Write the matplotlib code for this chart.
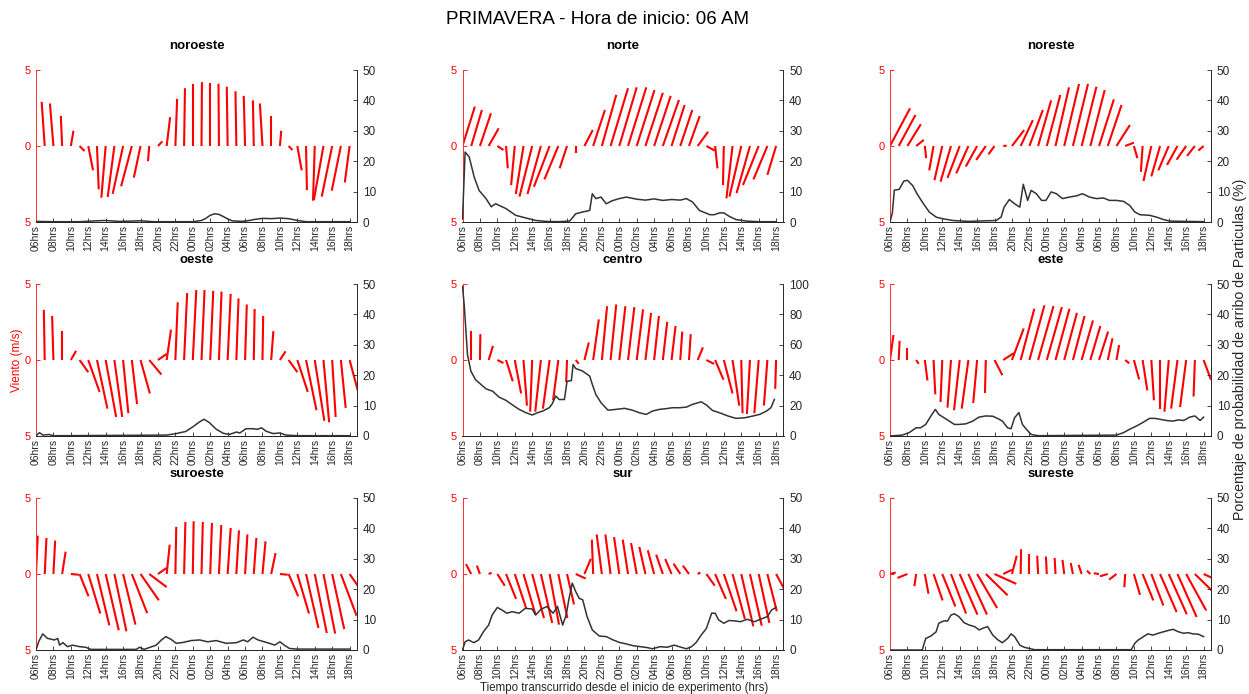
import numpy as np
import matplotlib
matplotlib.use('Agg')
import matplotlib.pyplot as plt

plt.rcParams['font.family'] = ['Liberation Sans', 'DejaVu Sans']

# ---------------- data ----------------
stick_hours = list(range(37))  # hours after 06:00
tick_pos = list(range(0, 37, 2))
tick_labels = ['06hrs', '08hrs', '10hrs', '12hrs', '14hrs', '16hrs', '18hrs', '20hrs', '22hrs',
               '00hrs', '02hrs', '04hrs', '06hrs', '08hrs', '10hrs', '12hrs', '14hrs', '16hrs', '18hrs']

# wind components (m/s) for each hourly stick
noroeste_u = [0, -0.35, -0.4, -0.15, 0.3, 0.58, 0.55, 0.2, -0.5, -0.77, -1.2, -1.23, -0.77, -0.15, 0.5, 0.4,
              0.2, 0.1, 0.0, 0.05, 0.0, -0.05, -0.1, -0.1, -0.15, -0.1, -0.3, 0.0, 0.15, 0.45, 0.5, 0.1,
              -0.2, -1.1, -1.2, -1.05, -0.55]
noroeste_v = [0, 2.9, 2.8, 1.98, 1.0, -0.33, -1.6, -2.85, -3.4, -3.35, -3.15, -2.65, -2.08, -1.0, 0.3, 1.9,
              3.1, 3.8, 4.1, 4.2, 4.15, 4.1, 3.9, 3.6, 3.3, 3.0, 2.8, 1.95, 1.0, -0.26, -1.6, -2.9,
              -3.6, -3.55, -3.33, -2.94, -2.4]

norte_u = [1.42, 1.23, 1.27, 1.15, 0.7, 0.2, -0.42, -0.88, -1.46, -1.54, -1.8, -1.6, -0.85, 0.0, 0.95, 1.35,
           1.65, 2.0, 2.0, 2.1, 2.04, 2.0, 1.9, 1.85, 1.5, 1.38, 1.23, 1.2, 0.96, 0.27, -0.1, -0.7,
           -1.35, -1.54, -1.8, -1.6, -1.0]
norte_v = [2.59, 2.37, 2.15, 1.16, -0.26, -1.47, -2.57, -3.16, -3.33, -3.16, -2.68, -2.2, -1.47, -0.44, 1.05, 2.37,
           3.36, 3.8, 3.86, 3.86, 3.68, 3.5, 3.3, 3.03, 2.7, 2.37, 1.97, 0.94, -0.3, -1.47, -2.57, -3.44,
           -3.33, -3.1, -2.57, -2.2, -1.9]

noreste_u = [2.3, 1.92, 1.54, 0.88, 0.15, -0.5, -0.9, -1.2, -1.4, -1.4, -1.3, -1.1, -0.7, 0.4, 1.4, 1.4,
             1.55, 1.5, 1.55, 1.55, 1.7, 1.73, 1.7, 1.65, 1.7, 1.58, 1.54, 1.0, 0.4, -0.2, -0.9, -1.0,
             -1.2, -1.2, -1.1, -0.9, -0.6]
noreste_v = [2.48, 2.04, 1.43, 0.4, -0.8, -1.6, -2.25, -2.35, -2.1, -1.8, -1.35, -0.92, -0.55, 0.02, 1.05, 1.7,
             2.37, 3.0, 3.36, 3.86, 4.08, 4.08, 3.9, 3.68, 3.07, 2.7, 1.38, 0.22, -0.8, -1.7, -2.3, -2.0,
             -1.6, -1.25, -0.9, -0.65, -0.3]

oeste_u = [-0.05, -0.1, -0.15, 0.0, 0.6, 1.0, 1.3, 1.2, 1.2, 0.9, 0.6, 0.6, 1.07, 1.4, 1.0, 0.5,
           0.27, 0.35, 0.4, 0.35, 0.35, 0.3, 0.35, 0.25, 0.2, 0.1, 0.08, 0.25, 0.65, 1.0, 1.2, 1.2,
           1.1, 0.65, 0.4, 0.55, 1.15]
oeste_v = [3.57, 3.3, 2.9, 1.9, 0.6, -0.8, -2.1, -3.2, -3.75, -3.75, -3.5, -2.9, -2.2, -0.96, 0.4, 2.0,
           3.8, 4.4, 4.6, 4.6, 4.55, 4.5, 4.35, 4.05, 3.65, 3.35, 2.9, 1.9, 0.57, -0.8, -2.1, -3.3,
           -4.0, -4.1, -3.75, -3.15, -2.45]

centro_u = [0.05, 0.0, 0.05, 0.5, 0.7, 0.77, 0.73, 0.4, -0.23, -0.65, -0.77, -0.6, -0.1, 0.35, 0.5, 0.65,
            0.6, 0.65, 0.7, 0.73, 0.73, 0.65, 0.55, 0.5, 0.46, 0.23, 0.2, 0.6, 0.88, 0.96, 1.0, 0.77,
            0.15, -0.35, -0.5, -0.4, -0.1]
centro_v = [2.1, 1.9, 1.7, 0.93, -0.2, -1.4, -2.2, -3.0, -3.4, -3.4, -3.2, -2.65, -1.45, -0.25, 1.15, 2.67,
            3.54, 3.65, 3.54, 3.48, 3.33, 3.1, 2.9, 2.5, 2.24, 1.87, 1.7, 0.83, -0.26, -1.3, -2.2, -3.0,
            -3.5, -3.55, -3.5, -3.0, -1.9]

este_u = [0.4, 0.1, 0.0, 0.3, 0.3, 0.2, -0.2, -0.4, -0.65, -0.77, -0.45, -0.1, 0.9, 1.2, 1.35, 1.57,
          1.73, 1.77, 1.73, 1.6, 1.46, 1.34, 1.3, 1.15, 1.04, 0.54, 0.3, 0.46, 0.6, 0.54, 0.3, 0.0,
          -0.5, -0.73, -0.7, -0.15, 0.85]
este_v = [1.65, 1.26, 0.8, -0.25, -1.35, -2.26, -2.76, -3.13, -3.3, -3.2, -2.83, -2.17, -1.0, 0.45, 2.07, 3.37,
          3.6, 3.55, 3.48, 3.37, 3.1, 2.9, 2.6, 2.24, 1.87, 1.43, 0.98, -0.22, -1.28, -2.0, -2.65, -3.2,
          -3.4, -3.2, -3.1, -2.4, -1.3]

suroeste_u = [0.2, 0.2, 0.2, 0.4, 0.9, 1.03, 1.38, 1.42, 1.5, 1.38, 1.42, 1.76, 2.1, 2.0, 1.0, 0.35,
              0.1, 0.15, 0.1, 0.15, 0.2, 0.27, 0.35, 0.3, 0.27, 0.3, 0.35, 0.5, 0.9, 1.1, 1.34, 1.42,
              1.38, 1.34, 1.38, 1.8, 2.1]
suroeste_v = [2.52, 2.37, 2.2, 1.47, -0.05, -1.47, -2.6, -3.38, -3.7, -3.77, -3.33, -2.57, -1.73, -0.86, 0.4, 1.93,
              3.1, 3.42, 3.47, 3.42, 3.36, 3.22, 3.03, 2.87, 2.6, 2.37, 2.15, 1.38, -0.05, -1.47, -2.6, -3.55,
              -3.88, -3.92, -3.62, -2.74, -1.73]

sur_u = [0.0, -0.6, -0.35, 0.35, 0.85, 1.15, 1.3, 1.38, 1.35, 1.3, 1.08, 1.04, 0.8, 1.15, 0.73, -0.15,
         -0.6, -0.6, -0.6, -0.6, -0.65, -0.7, -0.73, -0.77, -0.73, -0.77, -0.7, 0.3, 0.96, 1.23, 1.46, 1.42,
         1.38, 1.35, 1.23, 1.08, 0.95]
sur_v = [0.0, 0.65, 0.55, 0.08, -0.77, -1.64, -2.24, -2.67, -2.9, -3.22, -3.33, -2.9, -2.0, -0.3, 1.0, 2.26,
         2.6, 2.6, 2.43, 2.26, 2.04, 1.78, 1.56, 1.27, 0.99, 0.68, 0.55, 0.1, -0.77, -1.64, -2.45, -2.96,
         -3.44, -3.4, -3.22, -2.45, -1.0]

sureste_u = [0.65, 0.0, -1.15, -0.2, 0.42, 1.04, 1.5, 1.73, 2.04, 2.13, 2.3, 2.5, 2.5, 1.0, 0.55, 0.05,
             0.0, -0.1, -0.1, -0.1, -0.2, -0.25, -0.35, -0.4, -0.6, -0.9, -0.85, -0.1, 0.7, 1.23, 1.38, 1.9,
             2.07, 2.2, 2.3, 2.5, 2.5]
sureste_v = [0.1, 0.0, -0.26, -0.8, -1.3, -1.74, -2.13, -2.6, -2.67, -2.67, -2.24, -1.4, -0.65, 0.28, 1.2, 1.63,
             1.3, 1.2, 1.15, 1.05, 0.93, 0.72, 0.6, 0.22, 0.05, -0.15, -0.37, -0.87, -1.37, -1.74, -2.07, -2.5,
             -2.65, -2.83, -2.4, -1.4, -0.65]

# particle arrival probability (%) : time (h after 06:00) and value
noroeste_pt = [0, 2, 5, 7, 8, 9.5, 11, 12, 13.5, 18, 19, 19.5, 20, 20.5, 21, 21.5, 22, 22.5, 23.5, 24,
               24.5, 25, 26, 27, 28, 29, 29.5, 30, 31, 36]
noroeste_pp = [0.2, 0.1, 0.1, 0.4, 0.5, 0.2, 0.3, 0.4, 0.1, 0.1, 0.5, 1.2, 2.2, 2.7, 2.5, 1.8, 1.0, 0.4, 0.2, 0.3,
               0.5, 0.8, 1.2, 1.1, 1.3, 1.1, 0.8, 0.5, 0.1, 0.1]

norte_pt = [0, 0.3, 0.77, 1.34, 1.9, 2.7, 3.3, 3.8, 5, 6.1, 7.3, 8.4, 9.6, 11, 12.3, 13, 13.8, 14.6, 14.9,
            15.3, 15.9, 16.5, 17.2, 18, 18.8, 20, 21, 22, 23, 24, 25, 25.7, 26.4, 27.2, 28.4, 28.9, 29.5,
            30, 30.6, 31.4, 32.6, 34, 36]
norte_pp = [1.0, 23, 21.4, 14.8, 10.4, 7.7, 5, 6, 4.4, 2.2, 1.3, 0.5, 0.2, 0.1, 0.3, 2.7, 3.3, 3.8, 9.3,
            7.7, 8.2, 6, 7, 7.7, 8.2, 7.5, 7.2, 7.6, 7.1, 7.4, 7.2, 7.7, 6.6, 3.8, 2.4, 2.4, 3.0,
            3.0, 1.9, 0.8, 0.3, 0.1, 0.1]

noreste_pt = [0, 0.27, 0.5, 1.04, 1.6, 2, 2.6, 3.1, 3.7, 4.5, 5.3, 6, 7.2, 9, 12.2, 12.75, 13.1, 13.7, 14.3,
              14.9, 15.3, 15.8, 16.2, 16.8, 17.4, 17.9, 18.5, 19.1, 19.8, 20.6, 21.4, 22.1, 22.9, 23.7, 24.5,
              25.2, 26, 26.8, 27.5, 28.1, 28.7, 29.8, 30.6, 31.4, 32.1, 36]
noreste_pp = [0, 3, 10.5, 10.7, 13.5, 13.7, 12, 9.3, 6.6, 3.3, 1.6, 1.1, 0.5, 0.2, 0.5, 1.6, 4.9, 7.4, 6,
              4.9, 12.4, 7.1, 10.4, 9.3, 7.1, 7.1, 9.9, 9.3, 7.7, 8.2, 8.6, 9.3, 8.2, 7.7, 7.9,
              7.1, 7.1, 6.8, 5.5, 3.3, 2.4, 2.2, 1.6, 0.8, 0.3, 0.1]

oeste_pt = [0, 0.4, 0.8, 1.5, 2, 3, 15, 16.1, 17.2, 18, 18.8, 19.3, 19.9, 20.7, 21.5, 22.2, 23, 23.4, 24.1,
            24.9, 25.4, 25.9, 26.4, 27.2, 28, 28.7, 30, 36]
oeste_pp = [0.1, 1.1, 0.3, 0.5, 0.1, 0.1, 0.3, 0.8, 1.5, 3.0, 4.7, 5.5, 4.4, 2.2, 0.9, 0.5, 1.3, 1.0, 2.4,
            2.4, 2.2, 2.7, 1.6, 0.8, 1.0, 0.3, 0.1, 0.1]

centro_pt = [0, 0.2, 0.57, 0.96, 1.5, 2.1, 2.7, 3.45, 4.2, 5, 5.75, 6.5, 7.3, 8, 8.6, 9.2, 9.96, 10.3, 10.7,
             11.1, 11.7, 12, 12.5, 12.7, 13, 13.8, 14.6, 14.9, 15.3, 15.9, 16.7, 17.6, 18.6, 19.5, 20.3,
             21.1, 21.8, 22.6, 23.4, 24.1, 24.9, 25.7, 26.4, 27.4, 28, 28.7, 29.5, 30.5, 31.4, 32.4, 33.3,
             34.1, 34.9, 35.4, 35.8]
centro_pp = [98.5, 86, 53.6, 42.7, 37, 34, 31, 29.5, 25.6, 23.4, 20.4, 17.5, 15.3, 13.8, 15.3, 16.4, 18.6, 21.2,
             26.3, 24, 24, 36, 36.5, 47, 44.4, 42.7, 39.4, 34, 27.4, 21.9, 17, 17.5, 18.2, 17, 15.3,
             14.2, 16.4, 17.5, 18, 18.6, 18.6, 19, 20.8, 22.5, 20.4, 16.8, 15.3, 13.1, 11.6, 12, 13.1,
             14.2, 16.4, 18.6, 24]

este_pt = [0, 1.4, 2.2, 3, 3.5, 4.1, 4.7, 5.2, 5.6, 6.2, 6.8, 7.4, 7.9, 8.7, 9.5, 10.2, 11, 11.8, 12.4,
           12.9, 13.5, 13.9, 14.3, 14.8, 15.2, 15.6, 16.2, 17, 26, 26.8, 27.5, 28.3, 29, 29.8, 30.4, 31,
           31.7, 32.5, 33.1, 33.7, 34.4, 35, 35.6, 36]
este_pp = [0, 0.3, 1.1, 2.7, 2.7, 3.8, 6.6, 8.75, 7.1, 6, 4.9, 3.8, 3.8, 4, 4.9, 6.2, 6.6, 6.5, 5.7,
           4.9, 2.7, 2.4, 6, 7.7, 3.8, 2.4, 0.5, 0.1, 0.3, 1.1, 2.2, 3.3, 4.4, 5.8, 5.8, 5.5,
           5.1, 4.9, 5.3, 5.1, 6.2, 6.6, 5.1, 6.2]

suroeste_pt = [0, 0.3, 0.77, 1.3, 2.1, 2.5, 2.7, 3.1, 3.6, 4.2, 5, 5.7, 6.3, 11.5, 11.9, 12.4, 13.8, 14.4,
               14.9, 15.5, 16.1, 16.9, 17.8, 18.8, 19.7, 20.7, 21.8, 23, 23.8, 24.3, 24.9, 25.5, 26.2, 26.8,
               27.4, 28, 28.5, 29.1, 30, 36]
suroeste_pp = [0, 2.7, 5.3, 3.85, 3.3, 3.8, 1.6, 2.4, 1.1, 1.6, 1.1, 0.9, 0.2, 0.2, 0.9, 0.2, 1.6, 3.3,
               4.4, 3.5, 2.2, 2.5, 3.1, 3.3, 2.7, 3.1, 2.2, 2.4, 3.3, 2.7, 4.2, 3.3, 2.7, 2.2,
               1.6, 2.7, 1.6, 0.5, 0.3, 0.3]

sur_pt = [0, 0.3, 0.7, 1.3, 1.85, 2.4, 3, 3.4, 4, 4.5, 5.1, 5.7, 6.5, 7.2, 8, 8.4, 9, 9.7, 10.4, 10.9,
          11.5, 11.9, 12.2, 12.6, 13, 13.4, 13.8, 14.3, 14.9, 15.7, 16.5, 17.3, 18, 18.8, 19.6, 20.4,
          21.2, 21.8, 22.7, 23.5, 24.3, 25.1, 25.7, 26.3, 26.8, 27.4, 28, 28.6, 29, 29.4, 30, 30.6,
          31.2, 31.9, 32.7, 33.5, 34.2, 35, 35.5, 36]
sur_pp = [0, 2.7, 3.3, 2.4, 3.3, 6, 8.2, 11.5, 14, 13.2, 12.1, 12.6, 12.1, 13.7, 13.5, 11.5, 13.4, 14.3,
          12.1, 14.3, 8.2, 11.5, 16.5, 22, 19.2, 17, 16.5, 11, 6.6, 4.6, 4.4, 3.3, 2.5, 2, 1.4, 1.1,
          0.8, 0.4, 1.1, 0.9, 1.6, 0.9, 0.4, 1.1, 2.4, 4.9, 7.1, 12.1, 12.1, 9.9, 8.8, 9.7,
          9.6, 9.3, 10.1, 9.3, 10.1, 11, 13.2, 14]

sureste_pt = [0, 3.7, 4.1, 4.7, 5.3, 5.6, 6.2, 6.6, 7, 7.4, 7.9, 8.5, 9.1, 9.7, 10.25, 10.6, 11.2, 11.8,
              12.4, 12.9, 13.5, 13.9, 14.3, 14.9, 15.4, 16, 16.6, 27.7, 28.1, 28.5, 29.1, 29.6, 30.2,
              30.8, 31.4, 31.9, 32.5, 33.1, 33.7, 34.2, 34.8, 35.4, 36]
sureste_pp = [0, 0, 3.8, 4.6, 6, 8.8, 9.6, 9.5, 11.5, 11.9, 11, 9, 8.2, 7.7, 6.6, 7.1, 7.7, 4.9,
              3.3, 2.4, 3.8, 5.3, 4.4, 1.6, 0.9, 0.5, 0.1, 0.1, 2.2, 3.3, 4.4, 5.3, 4.9,
              5.5, 6, 6.4, 6.8, 6, 5.5, 5.7, 5.3, 5.2, 4.4]

panel_names = ['noroeste', 'norte', 'noreste', 'oeste', 'centro', 'este', 'suroeste', 'sur', 'sureste']
panel_u = [noroeste_u, norte_u, noreste_u, oeste_u, centro_u, este_u, suroeste_u, sur_u, sureste_u]
panel_v = [noroeste_v, norte_v, noreste_v, oeste_v, centro_v, este_v, suroeste_v, sur_v, sureste_v]
panel_pt = [noroeste_pt, norte_pt, noreste_pt, oeste_pt, centro_pt, este_pt, suroeste_pt, sur_pt, sureste_pt]
panel_pp = [noroeste_pp, norte_pp, noreste_pp, oeste_pp, centro_pp, este_pp, suroeste_pp, sur_pp, sureste_pp]
panel_pmax = [50, 50, 50, 50, 100, 50, 50, 50, 50]

# ---------------- figure ----------------
W, H = 1249, 694
fig = plt.figure(figsize=(W / 100, H / 100), dpi=100)
col_left = [36, 462.5, 890]
row_top = [70, 284, 498]
aw, ah = 321, 152
dark = '#262626'

for i, name in enumerate(panel_names):
    r, c = divmod(i, 3)
    ax = fig.add_axes([col_left[c] / W, 1 - (row_top[r] + ah) / H, aw / W, ah / H])
    ax2 = ax.twinx()
    for t, uu, vv in zip(stick_hours, panel_u[i], panel_v[i]):
        if uu == 0 and vv == 0:
            continue
        ax.plot([t, t + uu], [0, vv], color='#ff0000', lw=1.5, solid_capstyle='butt')
    ax.set_xlim(0, 36.85)
    ax.set_ylim(-5, 5)
    ax.set_yticks([-5, 0, 5])
    ax.set_yticklabels(['5', '0', '5'])
    ax.set_xticks(tick_pos)
    ax.set_xticklabels(tick_labels, rotation=90)
    ax.tick_params(axis='y', colors='#ff0000', direction='in', length=3, labelsize=8, pad=4, width=0.6)
    ax.tick_params(axis='x', colors=dark, direction='in', length=3, labelsize=7.5, pad=2, width=0.6)
    ax.spines['left'].set_color('#ff3030')
    ax.spines['left'].set_linewidth(0.7)
    ax.spines['top'].set_visible(False)
    ax.spines['right'].set_visible(False)
    ax.spines['bottom'].set_color(dark)
    ax.spines['bottom'].set_linewidth(0.7)
    ax.set_title(name, fontsize=9.5, fontweight='bold', pad=15)

    ax2.plot(panel_pt[i], panel_pp[i], color='#333333', lw=1.1)
    ymax = panel_pmax[i]
    ax2.set_ylim(0, ymax)
    ax2.set_yticks(np.linspace(0, ymax, 6))
    ax2.set_yticklabels([f'{int(v)}' for v in np.linspace(0, ymax, 6)])
    ax2.tick_params(axis='y', colors=dark, direction='in', length=3, labelsize=8.5, pad=4, width=0.6)
    ax2.spines['left'].set_visible(False)
    ax2.spines['top'].set_visible(False)
    ax2.spines['right'].set_color(dark)
    ax2.spines['right'].set_linewidth(0.7)
    ax2.spines['bottom'].set_color(dark)
    ax2.spines['bottom'].set_linewidth(0.7)

fig.text(597 / W, 1 - 20 / H, 'PRIMAVERA - Hora de inicio: 06 AM', ha='center', va='center', fontsize=13.5)
fig.text(17 / W, 1 - 360 / H, 'Viento (m/s)', rotation=90, color='#ff0000', fontsize=8.5,
         ha='center', va='center')
fig.text(1240 / W, 1 - 349 / H, 'Porcentaje de probabilidad de arribo de Particulas (%)', rotation=90,
         fontsize=10.2, ha='center', va='center', color=dark)
fig.text(624 / W, 1 - 688 / H, 'Tiempo transcurrido desde el inicio de experimento (hrs)', fontsize=8.3,
         ha='center', va='center', color=dark)

fig.savefig('out.png', dpi=100)
